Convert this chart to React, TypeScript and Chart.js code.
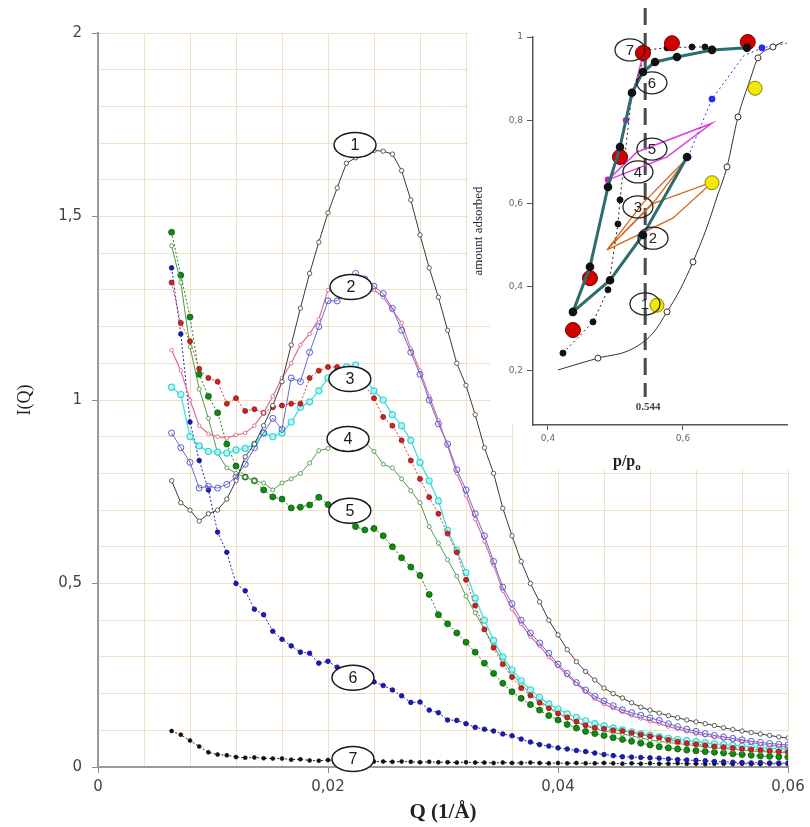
import React, { useEffect, useRef } from 'react';
import { Chart, registerables } from 'chart.js';

Chart.register(...registerables);

// ---------- Main SAXS chart data (Q in 1/Å, I(Q)) ----------
const Q = [0.0064, 0.0072, 0.0080, 0.0088, 0.0096, 0.0104, 0.0112, 0.0120, 0.0128, 0.0136,
  0.0144, 0.0152, 0.0160, 0.0168, 0.0176, 0.0184, 0.0192, 0.0200, 0.0208, 0.0216,
  0.0224, 0.0232, 0.0240, 0.0248, 0.0256, 0.0264, 0.0272, 0.0280, 0.0288, 0.0296,
  0.0304, 0.0312, 0.0320, 0.0328, 0.0336, 0.0344, 0.0352, 0.0360, 0.0368, 0.0376,
  0.0384, 0.0392, 0.0400, 0.0408, 0.0416, 0.0424, 0.0432, 0.0440, 0.0448, 0.0456,
  0.0464, 0.0472, 0.0480, 0.0488, 0.0496, 0.0504, 0.0512, 0.0520, 0.0528, 0.0536,
  0.0544, 0.0552, 0.0560, 0.0568, 0.0576, 0.0584, 0.0592, 0.0600];

const curve1 = [0.78, 0.72, 0.70, 0.67, 0.69, 0.70, 0.73, 0.78, 0.845, 0.88,
  0.93, 0.985, 1.05, 1.15, 1.25, 1.345, 1.43, 1.51, 1.578, 1.645,
  1.66, 1.67, 1.68, 1.678, 1.67, 1.625, 1.545, 1.45, 1.36, 1.28,
  1.19, 1.10, 1.04, 0.96, 0.87, 0.80, 0.705, 0.63, 0.56, 0.50,
  0.45, 0.40, 0.36, 0.32, 0.287, 0.26, 0.237, 0.215, 0.20, 0.188,
  0.175, 0.163, 0.155, 0.147, 0.14, 0.134, 0.128, 0.123, 0.118, 0.113,
  0.107, 0.102, 0.098, 0.094, 0.09, 0.086, 0.082, 0.079];

const curve2Blue = [0.91, 0.87, 0.83, 0.76, 0.765, 0.76, 0.77, 0.79, 0.825, 0.87,
  0.91, 0.95, 0.92, 1.06, 1.05, 1.13, 1.20, 1.27, 1.27, 1.30,
  1.345, 1.33, 1.31, 1.29, 1.25, 1.19, 1.13, 1.07, 1.0, 0.935,
  0.88, 0.81, 0.755, 0.69, 0.63, 0.56, 0.49, 0.445, 0.40, 0.365,
  0.338, 0.31, 0.28, 0.255, 0.23, 0.21, 0.193, 0.18, 0.167, 0.156,
  0.148, 0.141, 0.134, 0.127, 0.118, 0.110, 0.103, 0.097, 0.091, 0.086,
  0.082, 0.078, 0.074, 0.070, 0.067, 0.064, 0.062, 0.060];

const curve2Pink = [1.136, 1.08, 1.0, 0.93, 0.908, 0.90, 0.896, 0.905, 0.91, 0.93,
  0.965, 1.01, 1.06, 1.10, 1.15, 1.18, 1.22, 1.30, 1.31, 1.32,
  1.335, 1.33, 1.30, 1.28, 1.245, 1.21, 1.14, 1.08, 1.01, 0.945,
  0.875, 0.80, 0.74, 0.675, 0.615, 0.55, 0.48, 0.43, 0.39, 0.355,
  0.33, 0.30, 0.275, 0.25, 0.227, 0.205, 0.186, 0.172, 0.16, 0.15,
  0.14, 0.132, 0.125, 0.118, 0.11, 0.104, 0.097, 0.091, 0.086, 0.081,
  0.077, 0.073, 0.069, 0.066, 0.062, 0.059, 0.057, 0.055];

const curve3Red = [1.32, 1.21, 1.16, 1.085, 1.06, 1.05, 0.99, 1.005, 0.97, 0.975,
  0.965, 0.98, 0.985, 0.99, 0.99, 1.06, 1.08, 1.09, 1.09, 1.08,
  1.07, 1.04, 1.005, 0.954, 0.93, 0.89, 0.835, 0.785, 0.735, 0.69,
  0.636, 0.585, 0.51, 0.44, 0.375, 0.325, 0.28, 0.245, 0.215, 0.195,
  0.175, 0.16, 0.146, 0.135, 0.124, 0.114, 0.107, 0.104, 0.10, 0.098,
  0.093, 0.088, 0.084, 0.08, 0.074, 0.069, 0.065, 0.062, 0.059, 0.056,
  0.054, 0.052, 0.05, 0.048, 0.046, 0.044, 0.042, 0.041];

const curve3Cyan = [1.035, 1.015, 0.90, 0.875, 0.86, 0.858, 0.855, 0.864, 0.868, 0.88,
  0.91, 0.90, 0.91, 0.94, 0.98, 0.995, 1.025, 1.06, 1.08, 1.09,
  1.095, 1.06, 1.025, 1.0, 0.96, 0.93, 0.89, 0.83, 0.78, 0.725,
  0.645, 0.59, 0.53, 0.46, 0.40, 0.345, 0.30, 0.265, 0.235, 0.21,
  0.19, 0.172, 0.158, 0.145, 0.135, 0.126, 0.118, 0.112, 0.106, 0.101,
  0.096, 0.091, 0.087, 0.083, 0.079, 0.075, 0.072, 0.069, 0.066, 0.063,
  0.061, 0.059, 0.057, 0.055, 0.053, 0.051, 0.05, 0.049];

const curve4 = [1.42, 1.32, 1.145, 1.03, 0.95, 0.855, 0.815, 0.80, 0.79, 0.78,
  0.774, 0.755, 0.774, 0.785, 0.80, 0.828, 0.862, 0.868, 0.885, 0.89,
  0.90, 0.885, 0.86, 0.825, 0.815, 0.785, 0.753, 0.72, 0.655, 0.61,
  0.565, 0.52, 0.465, 0.42, 0.375, 0.33, 0.29, 0.255, 0.225, 0.2,
  0.18, 0.162, 0.147, 0.134, 0.122, 0.112, 0.104, 0.098, 0.094, 0.09,
  0.085, 0.079, 0.074, 0.07, 0.067, 0.064, 0.061, 0.058, 0.055, 0.052,
  0.05, 0.048, 0.046, 0.044, 0.042, 0.041, 0.04, 0.038];

const curve5 = [1.457, 1.34, 1.226, 1.07, 1.01, 0.965, 0.88, 0.82, 0.79, 0.78,
  0.755, 0.736, 0.73, 0.706, 0.708, 0.714, 0.735, 0.715, 0.695, 0.675,
  0.655, 0.646, 0.65, 0.63, 0.60, 0.57, 0.545, 0.522, 0.47, 0.415,
  0.39, 0.365, 0.34, 0.313, 0.283, 0.255, 0.228, 0.205, 0.187, 0.17,
  0.155, 0.14, 0.128, 0.116, 0.106, 0.097, 0.091, 0.086, 0.08, 0.075,
  0.07, 0.065, 0.06, 0.055, 0.052, 0.049, 0.046, 0.044, 0.042, 0.04,
  0.038, 0.036, 0.034, 0.032, 0.03, 0.029, 0.028, 0.027];

const curve6 = [1.36, 1.18, 0.94, 0.835, 0.755, 0.64, 0.585, 0.50, 0.48, 0.43,
  0.415, 0.37, 0.348, 0.33, 0.313, 0.31, 0.283, 0.288, 0.272, 0.262,
  0.255, 0.245, 0.232, 0.222, 0.21, 0.194, 0.176, 0.177, 0.155, 0.148,
  0.128, 0.127, 0.118, 0.108, 0.103, 0.098, 0.09, 0.085, 0.076, 0.068,
  0.061, 0.057, 0.052, 0.049, 0.045, 0.042, 0.038, 0.034, 0.031, 0.028,
  0.027, 0.026, 0.025, 0.024, 0.022, 0.02, 0.019, 0.018, 0.017, 0.015,
  0.014, 0.013, 0.012, 0.011, 0.012, 0.011, 0.011, 0.011];

const curve7 = [0.098, 0.088, 0.072, 0.056, 0.04, 0.034, 0.032, 0.027, 0.025, 0.026,
  0.024, 0.023, 0.023, 0.02, 0.021, 0.018, 0.017, 0.019, 0.018, 0.017,
  0.016, 0.016, 0.015, 0.015, 0.014, 0.015, 0.014, 0.013, 0.014, 0.013,
  0.013, 0.012, 0.013, 0.012, 0.012, 0.011, 0.012, 0.011, 0.011, 0.012,
  0.011, 0.01, 0.011, 0.01, 0.011, 0.01, 0.01, 0.011, 0.01, 0.009,
  0.01, 0.009, 0.01, 0.009, 0.009, 0.01, 0.009, 0.009, 0.008, 0.009,
  0.009, 0.008, 0.009, 0.008, 0.008, 0.009, 0.008, 0.008];

// circled curve numbers in the main chart (data coordinates)
const mainLabelText = ['1', '2', '3', '4', '5', '6', '7'];
const mainLabelQ = [0.02235, 0.0220, 0.0219, 0.02174, 0.0219, 0.02217, 0.02217];
const mainLabelI = [1.695, 1.308, 1.057, 0.894, 0.698, 0.243, 0.0218];

// ---------- Inset: sorption isotherm (p/po, amount adsorbed) ----------
const iso1X = [0.4148, 0.474, 0.5215, 0.5556, 0.5763, 0.5956, 0.6148, 0.6356, 0.6504, 0.6652, 0.6815, 0.6993, 0.7111, 0.7333, 0.748];
const iso1Y = [0.2005, 0.229, 0.2485, 0.289, 0.340, 0.393, 0.460, 0.544, 0.616, 0.688, 0.808, 0.897, 0.950, 0.976, 0.988];

const tealX = [0.606, 0.5407, 0.4919, 0.437, 0.4622, 0.4889, 0.5067, 0.5244, 0.5407, 0.5585, 0.5911, 0.643, 0.6948];
const tealY = [0.712, 0.5246, 0.416, 0.340, 0.448, 0.640, 0.736, 0.866, 0.916, 0.94, 0.952, 0.969, 0.974];

const dottedX = [0.4222, 0.4667, 0.4889, 0.5037, 0.5067, 0.5244, 0.5467, 0.5763, 0.6133, 0.6326];
const dottedY = [0.241, 0.316, 0.393, 0.551, 0.609, 0.866, 0.969, 0.974, 0.976, 0.976];

const blueX = [0.6074, 0.643, 0.69, 0.717, 0.754];
const blueY = [0.712, 0.851, 0.955, 0.974, 0.985];

const magentaX = [0.4889, 0.5319, 0.643, 0.5763, 0.4889];
const magentaY = [0.657, 0.724, 0.793, 0.712, 0.657];
const magenta2X = [0.5156, 0.539];
const magenta2Y = [0.80, 0.945];

const orangeX = [0.4874, 0.54, 0.606, 0.56, 0.4874, 0.5556, 0.644, 0.585, 0.4874];
const orangeY = [0.489, 0.600, 0.709, 0.610, 0.489, 0.600, 0.652, 0.565, 0.489];

const redX = [0.437, 0.4622, 0.5067, 0.5407, 0.5837, 0.696];
const redY = [0.2965, 0.421, 0.712, 0.9616, 0.985, 0.988];

const yellowX = [0.5615, 0.643, 0.7067];
const yellowY = [0.356, 0.650, 0.877];

const insetLabelText = ['1', '2', '3', '4', '5', '6', '7'];
const insetLabelX = [0.5437, 0.5556, 0.5333, 0.5333, 0.554, 0.554, 0.5215];
const insetLabelY = [0.359, 0.517, 0.592, 0.676, 0.731, 0.890, 0.969];

const criticalP = 0.544;

// ---------- helpers ----------
const series = (ys: number[]) => Q.map((q, i) => ({ x: q, y: ys[i] }));
const pairs = (xs: number[], ys: number[]) => xs.map((x, i) => ({ x, y: ys[i] }));

const SANS = '"DejaVu Sans", "Liberation Sans", sans-serif';
const SERIF = '"Liberation Serif", "Times New Roman", serif';
const ARIAL = '"Liberation Sans", Arial, sans-serif';
const GRID = '#f1e0c4';

const mainLabelsPlugin = {
  id: 'mainLabels',
  afterDatasetsDraw(chart: any) {
    const { ctx } = chart;
    const xs = chart.scales.x;
    const ys = chart.scales.y;
    ctx.save();
    for (let i = 0; i < mainLabelText.length; i++) {
      const px = xs.getPixelForValue(mainLabelQ[i]);
      const py = ys.getPixelForValue(mainLabelI[i]);
      ctx.beginPath();
      ctx.ellipse(px, py, 21, 12.5, 0, 0, Math.PI * 2);
      ctx.fillStyle = '#ffffff';
      ctx.fill();
      ctx.lineWidth = 1.5;
      ctx.strokeStyle = '#1a1a1a';
      ctx.stroke();
      ctx.fillStyle = '#1a1a1a';
      ctx.font = '16px ' + ARIAL;
      ctx.textAlign = 'center';
      ctx.textBaseline = 'middle';
      ctx.fillText(mainLabelText[i], px, py + 1);
    }
    ctx.restore();
  },
};

const insetPlugin = {
  id: 'insetDecor',
  beforeDraw(chart: any) {
    const { ctx } = chart;
    ctx.save();
    ctx.fillStyle = '#ffffff';
    ctx.beginPath();
    ctx.moveTo(0, 0);
    ctx.lineTo(342, 0);
    ctx.lineTo(342, 470);
    ctx.lineTo(45, 470);
    ctx.lineTo(45, 425);
    ctx.lineTo(22, 425);
    ctx.lineTo(22, 300);
    ctx.lineTo(0, 300);
    ctx.closePath();
    ctx.fill();
    ctx.restore();
  },
  beforeDatasetsDraw(chart: any) {
    const { ctx } = chart;
    const px = chart.scales.x.getPixelForValue(criticalP);
    ctx.save();
    ctx.strokeStyle = '#4a4a4a';
    ctx.lineWidth = 3;
    ctx.setLineDash([17, 8]);
    ctx.beginPath();
    ctx.moveTo(px, 8);
    ctx.lineTo(px, 397);
    ctx.stroke();
    ctx.restore();
  },
  afterDatasetsDraw(chart: any) {
    const { ctx } = chart;
    const xs = chart.scales.x;
    const ys = chart.scales.y;
    ctx.save();
    for (let i = 0; i < insetLabelText.length; i++) {
      const px = xs.getPixelForValue(insetLabelX[i]);
      const py = ys.getPixelForValue(insetLabelY[i]);
      ctx.beginPath();
      ctx.ellipse(px, py, 15, 11, 0, 0, Math.PI * 2);
      ctx.lineWidth = 1.3;
      ctx.strokeStyle = '#222';
      ctx.stroke();
      ctx.fillStyle = '#222';
      ctx.font = '15px ' + ARIAL;
      ctx.textAlign = 'center';
      ctx.textBaseline = 'middle';
      ctx.fillText(insetLabelText[i], px, py + 1);
    }
    // critical pressure value
    const cx = xs.getPixelForValue(criticalP);
    ctx.fillStyle = '#444';
    ctx.font = 'bold 11px ' + SERIF;
    ctx.textAlign = 'center';
    ctx.textBaseline = 'middle';
    ctx.fillText(String(criticalP), cx + 3, 407);
    // x title p/po
    ctx.fillStyle = '#222';
    ctx.textAlign = 'left';
    ctx.textBaseline = 'alphabetic';
    ctx.font = 'bold 16px ' + SERIF;
    const t = 'p/p';
    const tx = 145;
    ctx.fillText(t, tx, 466);
    const w = ctx.measureText(t).width;
    ctx.font = 'bold 11px ' + SERIF;
    ctx.fillText('o', tx + w, 470);
    ctx.restore();
  },
};

const fmtComma = (v: number) => String(v).replace('.', ',');

export default function App() {
  const mainRef = useRef<HTMLCanvasElement | null>(null);
  const insetRef = useRef<HTMLCanvasElement | null>(null);

  useEffect(() => {
    if (!mainRef.current || !insetRef.current) return;

    const tickCol = (c: any) => (c.tick && c.tick.label !== '' ? '#8a8a8a' : 'rgba(0,0,0,0)');

    const main = new Chart(mainRef.current, {
      type: 'line',
      data: {
        datasets: [
          { data: series(curve1), borderColor: '#3a3a3a', borderWidth: 1, pointRadius: 2.2, pointBackgroundColor: '#ffffff', pointBorderColor: '#3a3a3a', pointBorderWidth: 0.8, tension: 0 },
          { data: series(curve2Blue), borderColor: '#6b6bd6', borderWidth: 1, pointRadius: 3, pointBackgroundColor: 'rgba(255,255,255,0)', pointBorderColor: '#5a5ad0', pointBorderWidth: 1, tension: 0 },
          { data: series(curve2Pink), borderColor: '#e06c9c', borderWidth: 1.2, pointRadius: 1.8, pointBackgroundColor: '#ffffff', pointBorderColor: '#d85a92', pointBorderWidth: 0.8, tension: 0 },
          { data: series(curve3Red), borderColor: '#e03c3c', borderDash: [2, 2], borderWidth: 1, pointRadius: 2.5, pointBackgroundColor: '#d42020', pointBorderColor: '#8a1a1a', pointBorderWidth: 0.8, tension: 0 },
          { data: series(curve3Cyan), borderColor: '#3fe0e0', borderWidth: 1.3, pointRadius: 3, pointBackgroundColor: 'rgba(190,248,248,0.7)', pointBorderColor: '#36d6d6', pointBorderWidth: 1.2, tension: 0 },
          { data: series(curve4), borderColor: '#4e9a4e', borderWidth: 1, pointRadius: 2, pointBackgroundColor: '#ffffff', pointBorderColor: '#4e9a4e', pointBorderWidth: 0.9, tension: 0 },
          { data: series(curve5), borderColor: '#1a8a1a', borderDash: [2, 2], borderWidth: 1, pointRadius: 3, pointBackgroundColor: '#118a11', pointBorderColor: '#0a5a0a', pointBorderWidth: 0.8, tension: 0 },
          { data: series(curve6), borderColor: '#2020c0', borderDash: [2, 2], borderWidth: 1, pointRadius: 2.3, pointBackgroundColor: '#1a1ab8', pointBorderColor: '#10107a', pointBorderWidth: 0.8, tension: 0 },
          { data: series(curve7), borderColor: '#222222', borderDash: [2, 2], borderWidth: 1, pointRadius: 2, pointBackgroundColor: '#111111', pointBorderColor: '#111111', pointBorderWidth: 0.6, tension: 0 },
        ],
      },
      options: {
        responsive: false,
        animation: false,
        devicePixelRatio: 1,
        events: [],
        layout: { padding: { top: 33, right: 22, left: 0, bottom: 0 } },
        plugins: { legend: { display: false }, tooltip: { enabled: false } },
        scales: {
          x: {
            type: 'linear',
            min: 0,
            max: 0.06,
            ticks: {
              stepSize: 0.004,
              includeBounds: false,
              autoSkip: false,
              maxRotation: 0,
              padding: 5,
              color: '#444',
              font: { family: SANS, size: 15 },
              callback: (v: any) => {
                const n = Math.round(Number(v) / 0.004);
                return n % 5 === 0 ? fmtComma(Math.round(n * 0.004 * 100) / 100) : '';
              },
            },
            grid: { color: GRID, lineWidth: 1, tickLength: 6, tickColor: tickCol },
            border: { display: true, color: '#9a9a9a', width: 2 },
            title: {
              display: true,
              text: 'Q (1/Å)',
              color: '#222',
              font: { family: SERIF, size: 21, weight: 'bold' },
              padding: { top: 0, bottom: 2 },
            },
            afterFit: (s: any) => { s.height = 60; },
          },
          y: {
            type: 'linear',
            min: 0,
            max: 2,
            ticks: {
              stepSize: 0.1,
              includeBounds: false,
              autoSkip: false,
              padding: 10,
              color: '#444',
              font: { family: SANS, size: 15 },
              callback: (v: any) => {
                const n = Math.round(Number(v) / 0.1);
                return n % 5 === 0 ? fmtComma(n / 10) : '';
              },
            },
            grid: { color: GRID, lineWidth: 1, tickLength: 6, tickColor: tickCol },
            border: { display: true, color: '#9a9a9a', width: 2 },
            title: {
              display: true,
              text: 'I(Q)',
              color: '#222',
              font: { family: SERIF, size: 18 },
              padding: { top: 14, bottom: 0 },
            },
            afterFit: (s: any) => { s.width = 98; },
          },
        },
      },
      plugins: [mainLabelsPlugin],
    } as any);

    const inset = new Chart(insetRef.current, {
      type: 'scatter',
      data: {
        datasets: [
          { data: pairs(tealX, tealY), showLine: true, borderColor: '#2c6d6d', borderWidth: 3, pointRadius: 2.8, pointBackgroundColor: '#111', pointBorderColor: '#111', tension: 0, clip: false },
          { data: pairs(redX, redY), showLine: false, pointRadius: 7.5, pointBackgroundColor: '#d40000', pointBorderColor: '#6a0000', pointBorderWidth: 1, clip: false },
          { data: pairs(yellowX, yellowY), showLine: false, pointRadius: 7, pointBackgroundColor: '#f5e800', pointBorderColor: '#8a8000', pointBorderWidth: 1, clip: false },
          { data: pairs(iso1X, iso1Y), showLine: true, borderColor: '#333', borderWidth: 1, cubicInterpolationMode: 'monotone', pointRadius: [0, 3, 0, 0, 3, 0, 3, 0, 0, 3, 3, 0, 3, 3, 0], pointBackgroundColor: '#fff', pointBorderColor: '#333', pointBorderWidth: 1, clip: false },
          { data: pairs(dottedX, dottedY), showLine: true, borderColor: '#222', borderDash: [2, 3], borderWidth: 1, pointRadius: 3, pointBackgroundColor: '#111', pointBorderColor: '#111', tension: 0, clip: false },
          { data: pairs(blueX, blueY), showLine: true, borderColor: '#3030f0', borderDash: [2, 3], borderWidth: 1, pointRadius: [3, 3, 0, 3, 0], pointBackgroundColor: '#2a2af0', pointBorderColor: '#2a2af0', tension: 0, clip: false },
          { data: pairs(magentaX, magentaY), showLine: true, borderColor: '#e040e0', borderWidth: 1.5, pointRadius: [2.5, 0, 0, 0, 0], pointBackgroundColor: '#c020c0', pointBorderColor: '#c020c0', tension: 0, clip: false },
          { data: pairs(magenta2X, magenta2Y), showLine: true, borderColor: '#e040e0', borderWidth: 1.5, pointRadius: [2.5, 0], pointBackgroundColor: '#c020c0', pointBorderColor: '#c020c0', tension: 0, clip: false },
          { data: pairs(orangeX, orangeY), showLine: true, borderColor: '#d2691e', borderWidth: 1.3, pointRadius: 0, tension: 0, clip: false },
        ],
      },
      options: {
        responsive: false,
        animation: false,
        devicePixelRatio: 1,
        events: [],
        layout: { padding: { top: 37, right: 23, left: 0, bottom: 0 } },
        plugins: { legend: { display: false }, tooltip: { enabled: false } },
        scales: {
          x: {
            type: 'linear',
            min: 0.3778,
            max: 0.7541,
            ticks: {
              stepSize: 0.2,
              includeBounds: false,
              padding: 3,
              color: '#666',
              font: { family: SANS, size: 9 },
              callback: (v: any) => fmtComma(Math.round(Number(v) * 10) / 10),
            },
            grid: { drawOnChartArea: false, tickLength: 5, tickColor: '#555' },
            border: { display: true, color: '#555', width: 1.5 },
            afterFit: (s: any) => { s.height = 47; },
          },
          y: {
            type: 'linear',
            min: 0.0684,
            max: 1.0,
            ticks: {
              stepSize: 0.2,
              includeBounds: false,
              padding: 4,
              color: '#666',
              font: { family: SANS, size: 9 },
              callback: (v: any) => fmtComma(Math.round(Number(v) * 10) / 10),
            },
            grid: { drawOnChartArea: false, tickLength: 6, tickColor: '#555' },
            border: { display: true, color: '#555', width: 1.5 },
            title: {
              display: true,
              text: 'amount adsorbed',
              color: '#222',
              font: { family: SERIF, size: 13 },
              padding: { top: 3, bottom: 0 },
            },
            afterFit: (s: any) => { s.width = 65; },
          },
        },
      },
      plugins: [insetPlugin],
    } as any);

    return () => {
      main.destroy();
      inset.destroy();
    };
  }, []);

  return (
    <div style={{ position: 'absolute', left: 0, top: 0, width: 810, height: 827, background: '#ffffff' }}>
      <canvas ref={mainRef} width={810} height={827} style={{ position: 'absolute', left: 0, top: 0 }} />
      <canvas ref={insetRef} width={342} height={472} style={{ position: 'absolute', left: 468, top: 0 }} />
    </div>
  );
}
